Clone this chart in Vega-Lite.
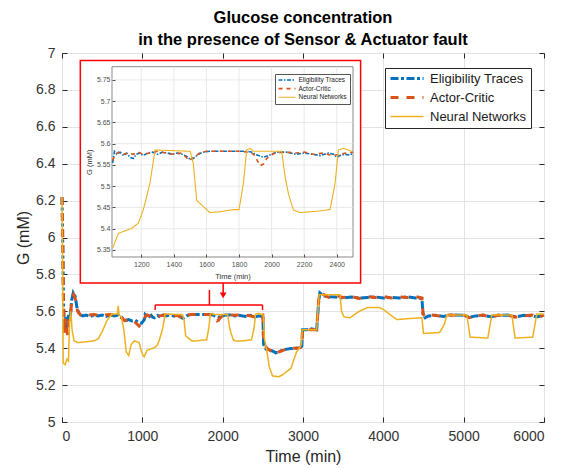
{
  "$schema": "https://vega.github.io/schema/vega-lite/v6.json",
  "width": 482,
  "height": 369,
  "autosize": {"type": "none"},
  "padding": {"left": 62, "top": 53, "right": 24, "bottom": 47},
  "background": "white",
  "config": {"view": {"stroke": "#262626", "strokeWidth": 1}, "font": "Liberation Sans"},
  "title": {
    "text": ["Glucose concentration", "in the presence of Sensor & Actuator fault"],
    "fontSize": 16.5, "fontWeight": "bold", "color": "black", "font": "Liberation Sans",
    "lineHeight": 22, "anchor": "middle", "offset": -2
  },
  "datasets": {
    "series": [
      {"s": "Eligibility Traces", "t": 0, "G": 6.22},
      {"s": "Eligibility Traces", "t": 10, "G": 5.95},
      {"s": "Eligibility Traces", "t": 20, "G": 5.62},
      {"s": "Eligibility Traces", "t": 30, "G": 5.52},
      {"s": "Eligibility Traces", "t": 45, "G": 5.57},
      {"s": "Eligibility Traces", "t": 60, "G": 5.5},
      {"s": "Eligibility Traces", "t": 80, "G": 5.58},
      {"s": "Eligibility Traces", "t": 100, "G": 5.55},
      {"s": "Eligibility Traces", "t": 120, "G": 5.66},
      {"s": "Eligibility Traces", "t": 140, "G": 5.7},
      {"s": "Eligibility Traces", "t": 165, "G": 5.68},
      {"s": "Eligibility Traces", "t": 190, "G": 5.61},
      {"s": "Eligibility Traces", "t": 220, "G": 5.585},
      {"s": "Eligibility Traces", "t": 260, "G": 5.575},
      {"s": "Eligibility Traces", "t": 300, "G": 5.58},
      {"s": "Eligibility Traces", "t": 350, "G": 5.572},
      {"s": "Eligibility Traces", "t": 400, "G": 5.58},
      {"s": "Eligibility Traces", "t": 450, "G": 5.575},
      {"s": "Eligibility Traces", "t": 500, "G": 5.58},
      {"s": "Eligibility Traces", "t": 550, "G": 5.572},
      {"s": "Eligibility Traces", "t": 600, "G": 5.58},
      {"s": "Eligibility Traces", "t": 650, "G": 5.575},
      {"s": "Eligibility Traces", "t": 700, "G": 5.58},
      {"s": "Eligibility Traces", "t": 730, "G": 5.572},
      {"s": "Eligibility Traces", "t": 760, "G": 5.56},
      {"s": "Eligibility Traces", "t": 790, "G": 5.55},
      {"s": "Eligibility Traces", "t": 830, "G": 5.555},
      {"s": "Eligibility Traces", "t": 870, "G": 5.548},
      {"s": "Eligibility Traces", "t": 910, "G": 5.552},
      {"s": "Eligibility Traces", "t": 950, "G": 5.54},
      {"s": "Eligibility Traces", "t": 990, "G": 5.535},
      {"s": "Eligibility Traces", "t": 1024, "G": 5.555},
      {"s": "Eligibility Traces", "t": 1035, "G": 5.582},
      {"s": "Eligibility Traces", "t": 1050, "G": 5.575},
      {"s": "Eligibility Traces", "t": 1070, "G": 5.58},
      {"s": "Eligibility Traces", "t": 1090, "G": 5.572},
      {"s": "Eligibility Traces", "t": 1110, "G": 5.578},
      {"s": "Eligibility Traces", "t": 1130, "G": 5.568},
      {"s": "Eligibility Traces", "t": 1150, "G": 5.565},
      {"s": "Eligibility Traces", "t": 1170, "G": 5.575},
      {"s": "Eligibility Traces", "t": 1190, "G": 5.578},
      {"s": "Eligibility Traces", "t": 1210, "G": 5.572},
      {"s": "Eligibility Traces", "t": 1240, "G": 5.578},
      {"s": "Eligibility Traces", "t": 1270, "G": 5.58},
      {"s": "Eligibility Traces", "t": 1300, "G": 5.575},
      {"s": "Eligibility Traces", "t": 1330, "G": 5.58},
      {"s": "Eligibility Traces", "t": 1360, "G": 5.578},
      {"s": "Eligibility Traces", "t": 1390, "G": 5.575},
      {"s": "Eligibility Traces", "t": 1420, "G": 5.578},
      {"s": "Eligibility Traces", "t": 1450, "G": 5.575},
      {"s": "Eligibility Traces", "t": 1480, "G": 5.57},
      {"s": "Eligibility Traces", "t": 1500, "G": 5.563},
      {"s": "Eligibility Traces", "t": 1520, "G": 5.565},
      {"s": "Eligibility Traces", "t": 1550, "G": 5.575},
      {"s": "Eligibility Traces", "t": 1580, "G": 5.58},
      {"s": "Eligibility Traces", "t": 1620, "G": 5.582},
      {"s": "Eligibility Traces", "t": 1700, "G": 5.582},
      {"s": "Eligibility Traces", "t": 1780, "G": 5.582},
      {"s": "Eligibility Traces", "t": 1850, "G": 5.582},
      {"s": "Eligibility Traces", "t": 1880, "G": 5.58},
      {"s": "Eligibility Traces", "t": 1900, "G": 5.575},
      {"s": "Eligibility Traces", "t": 1920, "G": 5.572},
      {"s": "Eligibility Traces", "t": 1950, "G": 5.568},
      {"s": "Eligibility Traces", "t": 1980, "G": 5.572},
      {"s": "Eligibility Traces", "t": 2000, "G": 5.575},
      {"s": "Eligibility Traces", "t": 2030, "G": 5.58},
      {"s": "Eligibility Traces", "t": 2100, "G": 5.58},
      {"s": "Eligibility Traces", "t": 2150, "G": 5.575},
      {"s": "Eligibility Traces", "t": 2200, "G": 5.578},
      {"s": "Eligibility Traces", "t": 2250, "G": 5.575},
      {"s": "Eligibility Traces", "t": 2300, "G": 5.572},
      {"s": "Eligibility Traces", "t": 2350, "G": 5.578},
      {"s": "Eligibility Traces", "t": 2380, "G": 5.575},
      {"s": "Eligibility Traces", "t": 2400, "G": 5.568},
      {"s": "Eligibility Traces", "t": 2420, "G": 5.572},
      {"s": "Eligibility Traces", "t": 2450, "G": 5.575},
      {"s": "Eligibility Traces", "t": 2480, "G": 5.573},
      {"s": "Eligibility Traces", "t": 2500, "G": 5.578},
      {"s": "Eligibility Traces", "t": 2510, "G": 5.42},
      {"s": "Eligibility Traces", "t": 2540, "G": 5.395},
      {"s": "Eligibility Traces", "t": 2580, "G": 5.39},
      {"s": "Eligibility Traces", "t": 2620, "G": 5.385},
      {"s": "Eligibility Traces", "t": 2660, "G": 5.375},
      {"s": "Eligibility Traces", "t": 2700, "G": 5.38},
      {"s": "Eligibility Traces", "t": 2750, "G": 5.39},
      {"s": "Eligibility Traces", "t": 2800, "G": 5.395},
      {"s": "Eligibility Traces", "t": 2850, "G": 5.398},
      {"s": "Eligibility Traces", "t": 2900, "G": 5.4},
      {"s": "Eligibility Traces", "t": 2960, "G": 5.4},
      {"s": "Eligibility Traces", "t": 2985, "G": 5.41},
      {"s": "Eligibility Traces", "t": 2995, "G": 5.5},
      {"s": "Eligibility Traces", "t": 3050, "G": 5.5},
      {"s": "Eligibility Traces", "t": 3100, "G": 5.505},
      {"s": "Eligibility Traces", "t": 3170, "G": 5.5},
      {"s": "Eligibility Traces", "t": 3195, "G": 5.65},
      {"s": "Eligibility Traces", "t": 3210, "G": 5.7},
      {"s": "Eligibility Traces", "t": 3250, "G": 5.685},
      {"s": "Eligibility Traces", "t": 3300, "G": 5.68},
      {"s": "Eligibility Traces", "t": 3400, "G": 5.678},
      {"s": "Eligibility Traces", "t": 3500, "G": 5.672},
      {"s": "Eligibility Traces", "t": 3600, "G": 5.678},
      {"s": "Eligibility Traces", "t": 3700, "G": 5.672},
      {"s": "Eligibility Traces", "t": 3800, "G": 5.675},
      {"s": "Eligibility Traces", "t": 3900, "G": 5.678},
      {"s": "Eligibility Traces", "t": 4000, "G": 5.672},
      {"s": "Eligibility Traces", "t": 4100, "G": 5.675},
      {"s": "Eligibility Traces", "t": 4200, "G": 5.672},
      {"s": "Eligibility Traces", "t": 4300, "G": 5.678},
      {"s": "Eligibility Traces", "t": 4400, "G": 5.672},
      {"s": "Eligibility Traces", "t": 4480, "G": 5.67},
      {"s": "Eligibility Traces", "t": 4495, "G": 5.58},
      {"s": "Eligibility Traces", "t": 4520, "G": 5.565},
      {"s": "Eligibility Traces", "t": 4560, "G": 5.575},
      {"s": "Eligibility Traces", "t": 4650, "G": 5.578},
      {"s": "Eligibility Traces", "t": 4750, "G": 5.572},
      {"s": "Eligibility Traces", "t": 4850, "G": 5.58},
      {"s": "Eligibility Traces", "t": 5000, "G": 5.578},
      {"s": "Eligibility Traces", "t": 5080, "G": 5.568},
      {"s": "Eligibility Traces", "t": 5150, "G": 5.575},
      {"s": "Eligibility Traces", "t": 5250, "G": 5.578},
      {"s": "Eligibility Traces", "t": 5340, "G": 5.57},
      {"s": "Eligibility Traces", "t": 5420, "G": 5.578},
      {"s": "Eligibility Traces", "t": 5550, "G": 5.58},
      {"s": "Eligibility Traces", "t": 5650, "G": 5.57},
      {"s": "Eligibility Traces", "t": 5750, "G": 5.578},
      {"s": "Eligibility Traces", "t": 5850, "G": 5.575},
      {"s": "Eligibility Traces", "t": 5920, "G": 5.57},
      {"s": "Eligibility Traces", "t": 6000, "G": 5.58},
      {"s": "Actor-Critic", "t": 0, "G": 6.22},
      {"s": "Actor-Critic", "t": 8, "G": 6.05},
      {"s": "Actor-Critic", "t": 18, "G": 5.65},
      {"s": "Actor-Critic", "t": 28, "G": 5.48},
      {"s": "Actor-Critic", "t": 40, "G": 5.56},
      {"s": "Actor-Critic", "t": 55, "G": 5.52},
      {"s": "Actor-Critic", "t": 70, "G": 5.47},
      {"s": "Actor-Critic", "t": 85, "G": 5.56},
      {"s": "Actor-Critic", "t": 105, "G": 5.58},
      {"s": "Actor-Critic", "t": 125, "G": 5.67},
      {"s": "Actor-Critic", "t": 145, "G": 5.69},
      {"s": "Actor-Critic", "t": 170, "G": 5.66},
      {"s": "Actor-Critic", "t": 195, "G": 5.6},
      {"s": "Actor-Critic", "t": 230, "G": 5.58},
      {"s": "Actor-Critic", "t": 300, "G": 5.578},
      {"s": "Actor-Critic", "t": 400, "G": 5.582},
      {"s": "Actor-Critic", "t": 500, "G": 5.578},
      {"s": "Actor-Critic", "t": 600, "G": 5.582},
      {"s": "Actor-Critic", "t": 700, "G": 5.578},
      {"s": "Actor-Critic", "t": 740, "G": 5.565},
      {"s": "Actor-Critic", "t": 780, "G": 5.55},
      {"s": "Actor-Critic", "t": 840, "G": 5.556},
      {"s": "Actor-Critic", "t": 900, "G": 5.545},
      {"s": "Actor-Critic", "t": 960, "G": 5.52},
      {"s": "Actor-Critic", "t": 990, "G": 5.535},
      {"s": "Actor-Critic", "t": 1024, "G": 5.56},
      {"s": "Actor-Critic", "t": 1040, "G": 5.575},
      {"s": "Actor-Critic", "t": 1060, "G": 5.58},
      {"s": "Actor-Critic", "t": 1090, "G": 5.575},
      {"s": "Actor-Critic", "t": 1120, "G": 5.578},
      {"s": "Actor-Critic", "t": 1150, "G": 5.575},
      {"s": "Actor-Critic", "t": 1180, "G": 5.58},
      {"s": "Actor-Critic", "t": 1210, "G": 5.575},
      {"s": "Actor-Critic", "t": 1250, "G": 5.578},
      {"s": "Actor-Critic", "t": 1300, "G": 5.582},
      {"s": "Actor-Critic", "t": 1350, "G": 5.578},
      {"s": "Actor-Critic", "t": 1400, "G": 5.575},
      {"s": "Actor-Critic", "t": 1440, "G": 5.578},
      {"s": "Actor-Critic", "t": 1470, "G": 5.57},
      {"s": "Actor-Critic", "t": 1495, "G": 5.56},
      {"s": "Actor-Critic", "t": 1520, "G": 5.568},
      {"s": "Actor-Critic", "t": 1560, "G": 5.578},
      {"s": "Actor-Critic", "t": 1600, "G": 5.582},
      {"s": "Actor-Critic", "t": 1700, "G": 5.582},
      {"s": "Actor-Critic", "t": 1800, "G": 5.582},
      {"s": "Actor-Critic", "t": 1860, "G": 5.58},
      {"s": "Actor-Critic", "t": 1890, "G": 5.575},
      {"s": "Actor-Critic", "t": 1910, "G": 5.562},
      {"s": "Actor-Critic", "t": 1930, "G": 5.548},
      {"s": "Actor-Critic", "t": 1950, "G": 5.552},
      {"s": "Actor-Critic", "t": 1970, "G": 5.565},
      {"s": "Actor-Critic", "t": 1990, "G": 5.572},
      {"s": "Actor-Critic", "t": 2020, "G": 5.578},
      {"s": "Actor-Critic", "t": 2080, "G": 5.58},
      {"s": "Actor-Critic", "t": 2150, "G": 5.578},
      {"s": "Actor-Critic", "t": 2200, "G": 5.58},
      {"s": "Actor-Critic", "t": 2260, "G": 5.575},
      {"s": "Actor-Critic", "t": 2320, "G": 5.578},
      {"s": "Actor-Critic", "t": 2370, "G": 5.572},
      {"s": "Actor-Critic", "t": 2420, "G": 5.575},
      {"s": "Actor-Critic", "t": 2460, "G": 5.578},
      {"s": "Actor-Critic", "t": 2500, "G": 5.58},
      {"s": "Actor-Critic", "t": 2510, "G": 5.43},
      {"s": "Actor-Critic", "t": 2550, "G": 5.4},
      {"s": "Actor-Critic", "t": 2600, "G": 5.385},
      {"s": "Actor-Critic", "t": 2640, "G": 5.372},
      {"s": "Actor-Critic", "t": 2670, "G": 5.368},
      {"s": "Actor-Critic", "t": 2700, "G": 5.38},
      {"s": "Actor-Critic", "t": 2760, "G": 5.39},
      {"s": "Actor-Critic", "t": 2820, "G": 5.398},
      {"s": "Actor-Critic", "t": 2900, "G": 5.4},
      {"s": "Actor-Critic", "t": 2960, "G": 5.402},
      {"s": "Actor-Critic", "t": 2985, "G": 5.41},
      {"s": "Actor-Critic", "t": 2995, "G": 5.5},
      {"s": "Actor-Critic", "t": 3100, "G": 5.5},
      {"s": "Actor-Critic", "t": 3170, "G": 5.5},
      {"s": "Actor-Critic", "t": 3195, "G": 5.66},
      {"s": "Actor-Critic", "t": 3210, "G": 5.7},
      {"s": "Actor-Critic", "t": 3260, "G": 5.69},
      {"s": "Actor-Critic", "t": 3320, "G": 5.675},
      {"s": "Actor-Critic", "t": 3400, "G": 5.685},
      {"s": "Actor-Critic", "t": 3500, "G": 5.675},
      {"s": "Actor-Critic", "t": 3600, "G": 5.68},
      {"s": "Actor-Critic", "t": 3700, "G": 5.67},
      {"s": "Actor-Critic", "t": 3800, "G": 5.68},
      {"s": "Actor-Critic", "t": 3900, "G": 5.675},
      {"s": "Actor-Critic", "t": 4000, "G": 5.68},
      {"s": "Actor-Critic", "t": 4100, "G": 5.672},
      {"s": "Actor-Critic", "t": 4200, "G": 5.678},
      {"s": "Actor-Critic", "t": 4300, "G": 5.675},
      {"s": "Actor-Critic", "t": 4400, "G": 5.68},
      {"s": "Actor-Critic", "t": 4480, "G": 5.672},
      {"s": "Actor-Critic", "t": 4495, "G": 5.585},
      {"s": "Actor-Critic", "t": 4520, "G": 5.57},
      {"s": "Actor-Critic", "t": 4600, "G": 5.58},
      {"s": "Actor-Critic", "t": 4700, "G": 5.575},
      {"s": "Actor-Critic", "t": 4800, "G": 5.58},
      {"s": "Actor-Critic", "t": 4900, "G": 5.578},
      {"s": "Actor-Critic", "t": 5000, "G": 5.58},
      {"s": "Actor-Critic", "t": 5070, "G": 5.565},
      {"s": "Actor-Critic", "t": 5150, "G": 5.575},
      {"s": "Actor-Critic", "t": 5250, "G": 5.58},
      {"s": "Actor-Critic", "t": 5340, "G": 5.565},
      {"s": "Actor-Critic", "t": 5420, "G": 5.578},
      {"s": "Actor-Critic", "t": 5550, "G": 5.58},
      {"s": "Actor-Critic", "t": 5640, "G": 5.568},
      {"s": "Actor-Critic", "t": 5750, "G": 5.575},
      {"s": "Actor-Critic", "t": 5850, "G": 5.58},
      {"s": "Actor-Critic", "t": 5930, "G": 5.565},
      {"s": "Actor-Critic", "t": 6000, "G": 5.58},
      {"s": "Neural Networks", "t": 0, "G": 6.22},
      {"s": "Neural Networks", "t": 8, "G": 5.8},
      {"s": "Neural Networks", "t": 15, "G": 5.32},
      {"s": "Neural Networks", "t": 40, "G": 5.31},
      {"s": "Neural Networks", "t": 60, "G": 5.34},
      {"s": "Neural Networks", "t": 80, "G": 5.33},
      {"s": "Neural Networks", "t": 95, "G": 5.55},
      {"s": "Neural Networks", "t": 110, "G": 5.6},
      {"s": "Neural Networks", "t": 125, "G": 5.5},
      {"s": "Neural Networks", "t": 150, "G": 5.44},
      {"s": "Neural Networks", "t": 200, "G": 5.43},
      {"s": "Neural Networks", "t": 300, "G": 5.435},
      {"s": "Neural Networks", "t": 400, "G": 5.44},
      {"s": "Neural Networks", "t": 450, "G": 5.45},
      {"s": "Neural Networks", "t": 500, "G": 5.49},
      {"s": "Neural Networks", "t": 560, "G": 5.55},
      {"s": "Neural Networks", "t": 620, "G": 5.585},
      {"s": "Neural Networks", "t": 690, "G": 5.585},
      {"s": "Neural Networks", "t": 700, "G": 5.63},
      {"s": "Neural Networks", "t": 710, "G": 5.58},
      {"s": "Neural Networks", "t": 740, "G": 5.57},
      {"s": "Neural Networks", "t": 770, "G": 5.5},
      {"s": "Neural Networks", "t": 800, "G": 5.38},
      {"s": "Neural Networks", "t": 830, "G": 5.36},
      {"s": "Neural Networks", "t": 860, "G": 5.42},
      {"s": "Neural Networks", "t": 900, "G": 5.44},
      {"s": "Neural Networks", "t": 960, "G": 5.43},
      {"s": "Neural Networks", "t": 990, "G": 5.38},
      {"s": "Neural Networks", "t": 1010, "G": 5.36},
      {"s": "Neural Networks", "t": 1024, "G": 5.354},
      {"s": "Neural Networks", "t": 1059, "G": 5.389},
      {"s": "Neural Networks", "t": 1141, "G": 5.401},
      {"s": "Neural Networks", "t": 1182, "G": 5.413},
      {"s": "Neural Networks", "t": 1212, "G": 5.444},
      {"s": "Neural Networks", "t": 1253, "G": 5.507},
      {"s": "Neural Networks", "t": 1284, "G": 5.585},
      {"s": "Neural Networks", "t": 1300, "G": 5.585},
      {"s": "Neural Networks", "t": 1500, "G": 5.582},
      {"s": "Neural Networks", "t": 1519, "G": 5.554},
      {"s": "Neural Networks", "t": 1540, "G": 5.467},
      {"s": "Neural Networks", "t": 1581, "G": 5.452},
      {"s": "Neural Networks", "t": 1622, "G": 5.438},
      {"s": "Neural Networks", "t": 1683, "G": 5.44},
      {"s": "Neural Networks", "t": 1765, "G": 5.445},
      {"s": "Neural Networks", "t": 1800, "G": 5.445},
      {"s": "Neural Networks", "t": 1827, "G": 5.507},
      {"s": "Neural Networks", "t": 1847, "G": 5.585},
      {"s": "Neural Networks", "t": 1868, "G": 5.589},
      {"s": "Neural Networks", "t": 1890, "G": 5.582},
      {"s": "Neural Networks", "t": 2062, "G": 5.582},
      {"s": "Neural Networks", "t": 2083, "G": 5.522},
      {"s": "Neural Networks", "t": 2103, "G": 5.483},
      {"s": "Neural Networks", "t": 2134, "G": 5.444},
      {"s": "Neural Networks", "t": 2175, "G": 5.438},
      {"s": "Neural Networks", "t": 2277, "G": 5.441},
      {"s": "Neural Networks", "t": 2359, "G": 5.445},
      {"s": "Neural Networks", "t": 2390, "G": 5.507},
      {"s": "Neural Networks", "t": 2410, "G": 5.585},
      {"s": "Neural Networks", "t": 2442, "G": 5.589},
      {"s": "Neural Networks", "t": 2492, "G": 5.582},
      {"s": "Neural Networks", "t": 2505, "G": 5.58},
      {"s": "Neural Networks", "t": 2520, "G": 5.45},
      {"s": "Neural Networks", "t": 2545, "G": 5.4},
      {"s": "Neural Networks", "t": 2580, "G": 5.3},
      {"s": "Neural Networks", "t": 2620, "G": 5.25},
      {"s": "Neural Networks", "t": 2700, "G": 5.245},
      {"s": "Neural Networks", "t": 2760, "G": 5.26},
      {"s": "Neural Networks", "t": 2800, "G": 5.275},
      {"s": "Neural Networks", "t": 2850, "G": 5.29},
      {"s": "Neural Networks", "t": 2880, "G": 5.33},
      {"s": "Neural Networks", "t": 2920, "G": 5.38},
      {"s": "Neural Networks", "t": 2960, "G": 5.405},
      {"s": "Neural Networks", "t": 2980, "G": 5.42},
      {"s": "Neural Networks", "t": 2990, "G": 5.5},
      {"s": "Neural Networks", "t": 3170, "G": 5.5},
      {"s": "Neural Networks", "t": 3200, "G": 5.69},
      {"s": "Neural Networks", "t": 3460, "G": 5.69},
      {"s": "Neural Networks", "t": 3480, "G": 5.6},
      {"s": "Neural Networks", "t": 3510, "G": 5.57},
      {"s": "Neural Networks", "t": 3585, "G": 5.565},
      {"s": "Neural Networks", "t": 3700, "G": 5.6},
      {"s": "Neural Networks", "t": 3800, "G": 5.62},
      {"s": "Neural Networks", "t": 3950, "G": 5.62},
      {"s": "Neural Networks", "t": 4000, "G": 5.61},
      {"s": "Neural Networks", "t": 4120, "G": 5.57},
      {"s": "Neural Networks", "t": 4170, "G": 5.555},
      {"s": "Neural Networks", "t": 4300, "G": 5.56},
      {"s": "Neural Networks", "t": 4480, "G": 5.565},
      {"s": "Neural Networks", "t": 4500, "G": 5.48},
      {"s": "Neural Networks", "t": 4700, "G": 5.485},
      {"s": "Neural Networks", "t": 4760, "G": 5.53},
      {"s": "Neural Networks", "t": 4790, "G": 5.58},
      {"s": "Neural Networks", "t": 5040, "G": 5.58},
      {"s": "Neural Networks", "t": 5080, "G": 5.46},
      {"s": "Neural Networks", "t": 5300, "G": 5.455},
      {"s": "Neural Networks", "t": 5350, "G": 5.58},
      {"s": "Neural Networks", "t": 5600, "G": 5.58},
      {"s": "Neural Networks", "t": 5640, "G": 5.455},
      {"s": "Neural Networks", "t": 5860, "G": 5.46},
      {"s": "Neural Networks", "t": 5910, "G": 5.585},
      {"s": "Neural Networks", "t": 6000, "G": 5.585}
    ],
    "redframe": [{"x": 228, "x2": 3717, "y": 6.96, "y2": 5.754}],
    "bracket": [
      {"x": 1160, "x2": 2496, "y": 5.634, "y2": 5.634},
      {"x": 1160, "x2": 1160, "y": 5.634, "y2": 5.607},
      {"x": 2496, "x2": 2496, "y": 5.634, "y2": 5.607},
      {"x": 1835, "x2": 1835, "y": 5.716, "y2": 5.634},
      {"x": 2006, "x2": 2006, "y": 5.754, "y2": 5.69}
    ],
    "arrowhead": [{"x": 2006, "y": 5.686}],
    "insetframe": [{"x": 1020, "x2": 2500, "y": 5.3335, "y2": 5.781}],
    "igx": [{"v": 1200}, {"v": 1400}, {"v": 1600}, {"v": 1800}, {"v": 2000}, {"v": 2200}, {"v": 2400}],
    "igy": [{"v": 5.35}, {"v": 5.4}, {"v": 5.45}, {"v": 5.5}, {"v": 5.55}, {"v": 5.6}, {"v": 5.65}, {"v": 5.7}, {"v": 5.75}]
  },
  "layer": [
    {
      "layer": [
        {
          "data": {"name": "series"},
          "mark": {"type": "line", "strokeCap": "butt"},
          "encoding": {
            "x": {"field": "t", "type": "quantitative",
              "scale": {"domain": [0, 6000], "nice": false, "zero": false},
              "axis": {"title": "Time (min)", "values": [0, 1000, 2000, 3000, 4000, 5000, 6000], "tickCount": 30, "format": "d", "labelOverlap": false,
                "domain": false, "grid": true, "gridColor": "#e3e3e3", "tickColor": "#262626", "tickSize": -5,
                "labelPadding": 12, "labelFontSize": 14, "labelColor": "#333333", "labelFont": "Liberation Sans",
                "titleFontSize": 16, "titleFontWeight": "normal", "titleColor": "#262626", "titleFont": "Liberation Sans", "titlePadding": 5}},
            "y": {"field": "G", "type": "quantitative",
              "scale": {"domain": [5, 7], "nice": false, "zero": false},
              "axis": {"title": "G (mM)", "values": [5, 5.2, 5.4, 5.6, 5.8, 6, 6.2, 6.4, 6.6, 6.8, 7], "tickCount": 30, "format": ".3~g", "labelOverlap": false,
                "domain": false, "grid": true, "gridColor": "#e3e3e3", "tickColor": "#262626", "tickSize": -5,
                "labelPadding": 12, "labelFontSize": 14, "labelColor": "#333333", "labelFont": "Liberation Sans",
                "titleFontSize": 16, "titleFontWeight": "normal", "titleColor": "#262626", "titleFont": "Liberation Sans", "titlePadding": 4}},
            "color": {"field": "s", "type": "nominal",
              "scale": {"domain": ["Eligibility Traces", "Actor-Critic", "Neural Networks"], "range": ["#0072BD", "#D95319", "#EDB120"]},
              "legend": {"title": null, "orient": "none", "legendX": 323, "legendY": 15, "fillColor": "white", "strokeColor": "#262626",
                "padding": 4, "symbolType": "stroke", "symbolSize": 1089, "clipHeight": 13, "rowPadding": 5, "labelOffset": 5,
                "labelFontSize": 13, "labelFont": "Liberation Sans", "labelColor": "#1a1a1a"}},
            "strokeDash": {"field": "s", "type": "nominal",
              "scale": {"domain": ["Eligibility Traces", "Actor-Critic", "Neural Networks"], "range": [[8, 2.5, 3, 2.5], [8, 8], [1, 0]]}},
            "strokeWidth": {"field": "s", "type": "nominal",
              "scale": {"type": "ordinal", "domain": ["Eligibility Traces", "Actor-Critic", "Neural Networks"], "range": [3, 3, 1.5]}}
          }
        },
        {
          "data": {"name": "redframe"},
          "mark": {"type": "rect", "fill": "white", "stroke": "#ff0000", "strokeWidth": 1.5},
          "encoding": {
            "x": {"field": "x", "type": "quantitative", "scale": {"domain": [0, 6000], "nice": false, "zero": false}},
            "x2": {"field": "x2"},
            "y": {"field": "y", "type": "quantitative", "scale": {"domain": [5, 7], "nice": false, "zero": false}},
            "y2": {"field": "y2"}
          }
        },
        {
          "data": {"name": "bracket"},
          "mark": {"type": "rule", "color": "#ff0000", "strokeWidth": 1.5},
          "encoding": {
            "x": {"field": "x", "type": "quantitative", "scale": {"domain": [0, 6000], "nice": false, "zero": false}},
            "x2": {"field": "x2"},
            "y": {"field": "y", "type": "quantitative", "scale": {"domain": [5, 7], "nice": false, "zero": false}},
            "y2": {"field": "y2"}
          }
        },
        {
          "data": {"name": "arrowhead"},
          "mark": {"type": "point", "shape": "triangle-down", "filled": true, "color": "#ff0000", "size": 45, "opacity": 1},
          "encoding": {
            "x": {"field": "x", "type": "quantitative", "scale": {"domain": [0, 6000], "nice": false, "zero": false}},
            "y": {"field": "y", "type": "quantitative", "scale": {"domain": [5, 7], "nice": false, "zero": false}}
          }
        }
      ]
    },
    {
      "layer": [
        {
          "data": {"name": "insetframe"},
          "mark": {"type": "rect", "fill": "white", "stroke": "#8a8a8a", "strokeWidth": 1},
          "encoding": {
            "x": {"field": "x", "type": "quantitative",
              "scale": {"domain": [712.9, 3672.9], "nice": false, "zero": false},
              "axis": {"title": "Time (min)", "orient": "bottom", "offset": -165, "values": [1200, 1400, 1600, 1800, 2000, 2200, 2400], "tickCount": 30, "format": "d", "labelOverlap": false,
                "domain": false, "grid": false, "tickColor": "#4d4d4d", "tickSize": -3, "labelPadding": 6, "zindex": 2,
                "labelFontSize": 7, "labelColor": "#4d4d4d", "labelFont": "Liberation Sans",
                "titleFontSize": 7.5, "titleFontWeight": "normal", "titleColor": "#333333", "titleFont": "Liberation Sans", "titlePadding": 5, "titleX": 170.5}},
            "x2": {"field": "x2"},
            "y": {"field": "y", "type": "quantitative",
              "scale": {"domain": [4.9455, 5.8132], "nice": false, "zero": false},
              "axis": {"title": "G (mM)", "orient": "left", "offset": -50, "values": [5.35, 5.4, 5.45, 5.5, 5.55, 5.6, 5.65, 5.7, 5.75], "tickCount": 30, "format": ".3~g", "labelOverlap": false,
                "domain": false, "grid": false, "tickColor": "#4d4d4d", "tickSize": -3, "labelPadding": 5, "zindex": 2,
                "labelFontSize": 7, "labelColor": "#4d4d4d", "labelFont": "Liberation Sans",
                "titleFontSize": 7.5, "titleFontWeight": "normal", "titleColor": "#333333", "titleFont": "Liberation Sans", "titlePadding": 3, "titleY": 108.8}},
            "y2": {"field": "y2"}
          }
        },
        {
          "data": {"name": "igx"},
          "mark": {"type": "rule", "color": "#e3e3e3", "strokeWidth": 0.8},
          "encoding": {
            "x": {"field": "v", "type": "quantitative", "scale": {"domain": [712.9, 3672.9], "nice": false, "zero": false}},
            "y": {"datum": 5.3335, "type": "quantitative", "scale": {"domain": [4.9455, 5.8132], "nice": false, "zero": false}},
            "y2": {"datum": 5.781}
          }
        },
        {
          "data": {"name": "igy"},
          "mark": {"type": "rule", "color": "#e3e3e3", "strokeWidth": 0.8},
          "encoding": {
            "y": {"field": "v", "type": "quantitative", "scale": {"domain": [4.9455, 5.8132], "nice": false, "zero": false}},
            "x": {"datum": 1020, "type": "quantitative", "scale": {"domain": [712.9, 3672.9], "nice": false, "zero": false}},
            "x2": {"datum": 2500}
          }
        },
        {
          "data": {"name": "series"},
          "transform": [{"filter": "datum.t >= 1020 && datum.t <= 2500"}],
          "mark": {"type": "line", "strokeCap": "butt"},
          "encoding": {
            "x": {"field": "t", "type": "quantitative", "scale": {"domain": [712.9, 3672.9], "nice": false, "zero": false}},
            "y": {"field": "G", "type": "quantitative", "scale": {"domain": [4.9455, 5.8132], "nice": false, "zero": false}},
            "color": {"field": "s", "type": "nominal",
              "scale": {"domain": ["Eligibility Traces", "Actor-Critic", "Neural Networks"], "range": ["#0072BD", "#D95319", "#EDB120"]},
              "legend": {"title": null, "orient": "none", "legendX": 213, "legendY": 21, "fillColor": "white", "strokeColor": "#555555",
                "padding": 2.5, "symbolType": "stroke", "symbolSize": 289, "clipHeight": 7, "rowPadding": 1.6, "labelOffset": 2,
                "labelFontSize": 6.5, "labelFont": "Liberation Sans", "labelColor": "#1a1a1a"}},
            "strokeDash": {"field": "s", "type": "nominal",
              "scale": {"domain": ["Eligibility Traces", "Actor-Critic", "Neural Networks"], "range": [[4, 1.5, 1.5, 1.5], [4, 4], [1, 0]]}},
            "strokeWidth": {"field": "s", "type": "nominal",
              "scale": {"type": "ordinal", "domain": ["Eligibility Traces", "Actor-Critic", "Neural Networks"], "range": [1.6, 1.6, 1.1]}}
          }
        }
      ]
    },
    {
      "data": {"name": "redframe"},
      "mark": {"type": "rect", "opacity": 0},
      "encoding": {
        "x": {"field": "x", "type": "quantitative",
          "scale": {"domain": [0, 6000], "nice": false, "zero": false},
          "axis": {"title": null, "orient": "top", "values": [0, 1000, 2000, 3000, 4000, 5000, 6000], "tickCount": 30, "labels": false,
            "domain": false, "grid": false, "tickColor": "#262626", "tickSize": -5}},
        "x2": {"field": "x2"},
        "y": {"field": "y", "type": "quantitative",
          "scale": {"domain": [5, 7], "nice": false, "zero": false},
          "axis": {"title": null, "orient": "right", "values": [5, 5.2, 5.4, 5.6, 5.8, 6, 6.2, 6.4, 6.6, 6.8, 7], "tickCount": 30, "labels": false,
            "domain": false, "grid": false, "tickColor": "#262626", "tickSize": -5}},
        "y2": {"field": "y2"}
      }
    }
  ],
  "resolve": {
    "scale": {"x": "independent", "y": "independent", "color": "independent", "strokeDash": "independent", "strokeWidth": "independent"},
    "axis": {"x": "independent", "y": "independent"},
    "legend": {"color": "independent", "strokeDash": "independent", "strokeWidth": "independent"}
  }
}
